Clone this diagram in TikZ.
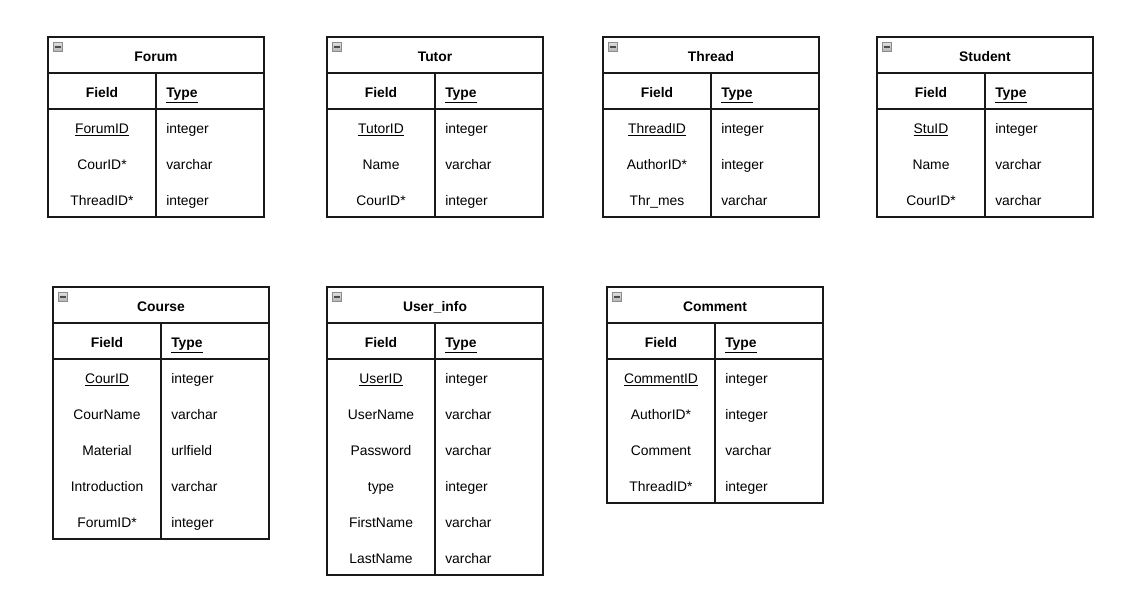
\documentclass[tikz,border=0pt]{standalone}
\usepackage{fontspec}
\setmainfont{Liberation Sans}
\begin{document}
\begin{tikzpicture}[x=0.75pt,y=-0.75pt,
  tbl/.style={draw=black!90,line width=0.8pt},
  txt/.style={font=\fontsize{10.4}{12}\selectfont,inner sep=0pt,text height=7.5pt,text depth=2pt},
  celltext/.style={txt,anchor=center},
  typetext/.style={txt,anchor=west},
  titletext/.style={txt,font=\fontsize{10.4}{12}\selectfont\bfseries,anchor=center},
  icon/.style={draw=gray!90,top color=gray!25,bottom color=gray!60,line width=0.5pt,minimum size=7.2pt,inner sep=0pt}]
\useasboundingbox (0,0) rectangle (1124,589);

% \erdtable{id}{x}{y}{title}{nrows}{list}
\newcommand{\erdtable}[6]{%
  \pgfmathsetmacro{\tb}{#3+72+36*#5}
  \draw[tbl] (#2,#3) rectangle (#2+216,\tb);
  \draw[tbl] (#2,#3+36) -- (#2+216,#3+36);
  \draw[tbl] (#2,#3+72) -- (#2+216,#3+72);
  \draw[tbl] (#2+108,#3+36) -- (#2+108,\tb);
  \node[icon] (#1-icon) at (#2+10,#3+10) {};
  \draw[line width=0.9pt,black!70] ([xshift=-2.5pt]#1-icon.center) -- ([xshift=2.5pt]#1-icon.center);
  \node[titletext] (#1-title) at (#2+108,#3+21) {#4};
  \node[titletext] (#1-field) at (#2+54,#3+57) {Field};
  \node[titletext,anchor=west] (#1-type) at (#2+118,#3+57) {\underline{Type}};
  \foreach \f/\t [count=\i] in {#6} {
    \node[celltext] (#1-f\i) at (#2+54,#3+57+36*\i) {\f};
    \node[typetext] (#1-t\i) at (#2+118,#3+57+36*\i) {\t};
  }
}

\erdtable{forum}{48}{37}{Forum}{3}{\underline{ForumID}/integer, CourID*/varchar, ThreadID*/integer}
\erdtable{tutor}{327}{37}{Tutor}{3}{\underline{TutorID}/integer, Name/varchar, CourID*/integer}
\erdtable{thread}{603}{37}{Thread}{3}{\underline{ThreadID}/integer, AuthorID*/integer, Thr\_mes/varchar}
\erdtable{student}{877}{37}{Student}{3}{\underline{StuID}/integer, Name/varchar, CourID*/varchar}
\erdtable{course}{53}{287}{Course}{5}{\underline{CourID}/integer, CourName/varchar, Material/urlfield, Introduction/varchar, ForumID*/integer}
\erdtable{userinfo}{327}{287}{User\_info}{6}{\underline{UserID}/integer, UserName/varchar, Password/varchar, type/integer, FirstName/varchar, LastName/varchar}
\erdtable{comment}{607}{287}{Comment}{4}{\underline{CommentID}/integer, AuthorID*/integer, Comment/varchar, ThreadID*/integer}
\end{tikzpicture}
\end{document}
